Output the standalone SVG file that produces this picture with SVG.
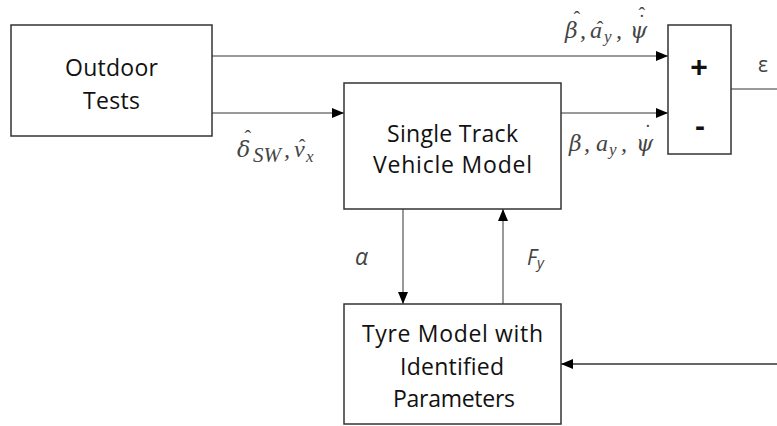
<svg xmlns="http://www.w3.org/2000/svg" width="777" height="426" viewBox="0 0 777 426">
<style>
.box{fill:#fff;stroke:#333;stroke-width:1.5}
.lbl{font-family:"Open Sans","Noto Sans",sans-serif;font-size:23px;fill:#111;text-anchor:middle}
.m{font-family:"Liberation Serif","DejaVu Serif",serif;font-style:italic;font-size:24px;fill:#444}
.g{font-family:"DejaVu Serif",serif;font-size:22px}
.s{font-size:17px}
.acc{font-family:"Liberation Serif",serif;font-style:normal;font-size:20px}
.wire{fill:none;stroke:#777;stroke-width:1.5}
.wire2{fill:none;stroke:#333;stroke-width:1.5}
</style>
<defs>
<marker id="ah" markerWidth="12" markerHeight="10" refX="12" refY="5" orient="auto" markerUnits="userSpaceOnUse">
<path d="M0,0 L12,5 L0,10 Z" fill="#000"/>
</marker>
</defs>
<rect width="777" height="426" fill="#fff"/>
<g id="connectors">
<line class="wire" x1="212" y1="56" x2="668" y2="56" marker-end="url(#ah)"/>
<line class="wire" x1="212" y1="113" x2="344" y2="113" marker-end="url(#ah)"/>
<line class="wire" x1="561" y1="113" x2="668" y2="113" marker-end="url(#ah)"/>
<line class="wire" x1="731" y1="89" x2="777" y2="89"/>
<line class="wire" x1="403" y1="209" x2="403" y2="304" marker-end="url(#ah)"/>
<line class="wire" x1="503" y1="304" x2="503" y2="209" marker-end="url(#ah)"/>
<line class="wire2" x1="777" y1="364" x2="561" y2="364" marker-end="url(#ah)"/>
</g>
<g id="outdoor">
<rect class="box" x="11" y="25" width="201" height="111"/>
<text class="lbl" x="111.5" y="76" textLength="93">Outdoor</text>
<text class="lbl" x="111.5" y="109" textLength="57">Tests</text>
</g>
<g id="vehicle">
<rect class="box" x="344" y="83" width="217" height="126"/>
<text class="lbl" x="452.5" y="142" textLength="131">Single Track</text>
<text class="lbl" x="452.5" y="173" textLength="159">Vehicle Model</text>
</g>
<g id="tyre">
<rect class="box" x="344" y="304" width="217" height="120"/>
<text class="lbl" x="452.5" y="342" textLength="181">Tyre Model with</text>
<text class="lbl" x="452" y="375" textLength="104">Identified</text>
<text class="lbl" x="454" y="407" textLength="122">Parameters</text>
</g>
<g id="sum">
<rect class="box" x="668" y="25" width="63" height="129"/>
<text x="699" y="77" font-family="Liberation Sans,Arial,sans-serif" font-size="30" font-weight="bold" fill="#111" text-anchor="middle">+</text>
<text x="700" y="136" font-family="Liberation Sans,Arial,sans-serif" font-size="30" font-weight="bold" fill="#111" text-anchor="middle">-</text>
</g>
<g id="labels">
<text class="m"><tspan class="g" x="565" y="38">β</tspan><tspan class="acc" x="573.5" y="26">ˆ</tspan><tspan x="580" y="38">,</tspan><tspan x="590" y="38">a</tspan><tspan class="acc" x="596.7" y="36">ˆ</tspan><tspan class="s" x="604" y="42">y</tspan><tspan x="616" y="38">,</tspan><tspan class="g" x="630" y="38">ψ</tspan><tspan class="acc" x="638.5" y="29">˙</tspan><tspan class="acc" x="638.5" y="22">ˆ</tspan></text>
<text class="m"><tspan class="g" x="569" y="151">β</tspan><tspan x="584" y="151">,</tspan><tspan x="596" y="151">a</tspan><tspan class="s" x="609" y="155">y</tspan><tspan x="621" y="151">,</tspan><tspan class="g" x="636" y="151">ψ</tspan><tspan class="acc" x="644.5" y="139">˙</tspan></text>
<text class="m"><tspan class="g" x="237" y="157">δ</tspan><tspan class="acc" x="244.5" y="145">ˆ</tspan><tspan font-size="21" x="253" y="162">SW</tspan><tspan x="284" y="157">,</tspan><tspan x="294" y="157">v</tspan><tspan class="acc" x="298.7" y="154">ˆ</tspan><tspan class="s" x="306" y="162">x</tspan></text>
<text x="355" y="265" font-family="Open Sans,sans-serif" font-style="italic" font-size="23" fill="#444">α</text>
<text x="527" y="265" font-family="Open Sans,sans-serif" font-style="italic" font-size="21" fill="#444">F<tspan font-size="15" dy="3">y</tspan></text>
<text x="758" y="72" font-family="Open Sans,sans-serif" font-size="21" fill="#444">ε</text>
</g>
</svg>
